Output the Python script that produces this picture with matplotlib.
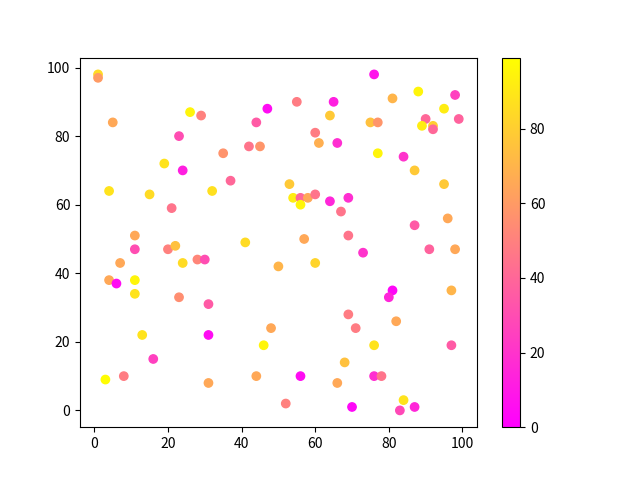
import matplotlib
matplotlib.use("Agg")
import matplotlib.pyplot as plt

plt.rcParams['font.family'] = ['Noto Sans CJK SC', 'DejaVu Sans']

x = [1, 1, 5, 26, 29, 47, 44, 23, 42, 45, 35, 19, 24, 37, 4, 15, 32, 21, 11, 41,
     11, 20, 22, 7, 24, 28, 30, 50, 4, 6, 11, 11, 23, 31, 13, 31, 48, 46, 16, 3, 8, 31, 44, 52,
     76, 55, 65, 81, 88, 98, 64, 95, 75, 77, 90, 99, 89, 92, 92, 60, 61, 66, 77, 84, 87, 95, 53,
     54, 56, 56, 58, 60, 64, 69, 67, 87, 96, 57, 69,
     73, 91, 98, 60, 81, 80, 97, 69, 71, 82, 76, 97, 68, 56, 66, 76, 78, 70, 84, 83, 87]
y = [98, 97, 84, 87, 86, 88, 84, 80, 77, 77, 75, 72, 70, 67, 64, 63, 64, 59, 51, 49,
     47, 47, 48, 43, 43, 44, 44, 42, 38, 37, 38, 34, 33, 31, 22, 22, 24, 19, 15, 9, 10, 8, 10, 2,
     98, 90, 90, 91, 93, 92, 86, 88, 84, 84, 85, 85, 83, 83, 82, 81, 78, 78, 75, 74, 70, 66, 66,
     62, 62, 60, 62, 63, 61, 62, 58, 54, 56, 50, 51,
     46, 47, 47, 43, 35, 33, 35, 28, 24, 26, 19, 19, 14, 10, 8, 10, 10, 1, 3, 0, 1]
colors = [85, 60, 65, 95, 50, 5, 35, 30, 45, 58, 57, 88, 12, 40, 88, 85, 87, 45, 65, 85,
          30, 50, 75, 65, 85, 52, 30, 70, 65, 5, 95, 88, 55, 35, 88, 5, 65, 95, 25, 98, 48, 65, 65, 50,
          8, 48, 12, 70, 95, 25, 78, 92, 75, 58, 40, 38, 92, 80, 40, 48, 68, 18, 95, 20, 78, 78, 78,
          92, 40, 95, 65, 45, 15, 18, 45, 35, 65, 65, 45,
          20, 38, 65, 82, 3, 15, 70, 48, 48, 65, 88, 35, 75, 5, 65, 18, 45, 3, 88, 28, 15]

fig, ax = plt.subplots(figsize=(6.4, 4.8), dpi=100)
sc = ax.scatter(x, y, c=colors, cmap='spring', vmin=0, vmax=99)
fig.colorbar(sc, ax=ax)
fig.savefig('out.png')
